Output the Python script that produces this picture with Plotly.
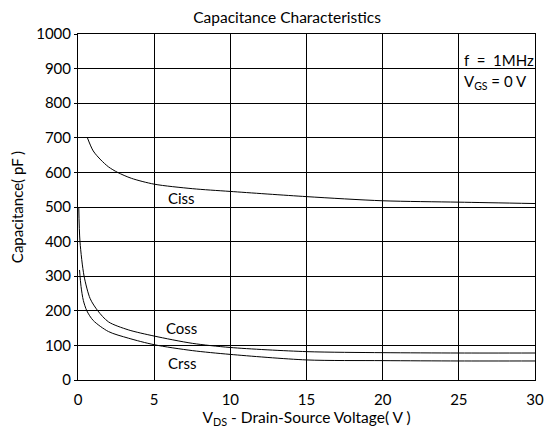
import plotly.graph_objects as go

# Data
ciss_x = [0.6, 1.0, 1.5, 2.0, 2.6, 3.5, 5, 7.5, 10, 15, 20, 25, 30]
ciss_y = [702, 662, 636, 616, 600, 583, 566, 553, 545, 530, 518, 514, 510]

coss_x = [0.05, 0.13, 0.4, 0.8, 1.3, 2.0, 3.3, 5, 7.5, 10, 15, 20, 25, 30]
coss_y = [500, 400, 300, 235, 200, 168, 145, 127, 106, 94, 82, 79, 78, 78]

crss_x = [0.1, 0.2, 0.35, 0.58, 1.0, 2.0, 3.3, 5, 7.5, 10, 15, 20, 25, 30]
crss_y = [318, 270, 230, 200, 172, 140, 121, 102, 85, 74, 58, 56, 55, 55]

x_ticks = [0, 5, 10, 15, 20, 25, 30]
y_ticks = [0, 100, 200, 300, 400, 500, 600, 700, 800, 900, 1000]

FONT = "Lato, Carlito, Calibri, sans-serif"

fig = go.Figure()
for xs, ys in [(ciss_x, ciss_y), (coss_x, coss_y), (crss_x, crss_y)]:
    fig.add_trace(go.Scatter(x=xs, y=ys, mode="lines",
                             line=dict(color="black", width=1, shape="spline", smoothing=0.8),
                             showlegend=False, hoverinfo="skip"))

labels = [("Ciss", 6.8, 526), ("Coss", 6.8, 150), ("Crss", 6.8, 49)]
for t, lx, ly in labels:
    fig.add_annotation(x=lx, y=ly, text=t, showarrow=False,
                       font=dict(size=15, color="black", family=FONT))

fig.add_annotation(x=25, y=924, text="f  =  1MHz", showarrow=False, xanchor="left", xshift=3,
                   font=dict(size=15, color="black", family=FONT))
fig.add_annotation(x=25, y=862, text="V<sub>GS</sub> = 0 V", showarrow=False, xanchor="left", xshift=3,
                   font=dict(size=15, color="black", family=FONT))

fig.update_layout(
    width=544, height=421,
    margin=dict(l=70, r=17, t=26, b=49, autoexpand=False),
    paper_bgcolor="white", plot_bgcolor="white",
    font=dict(family=FONT, size=14, color="black"),
    title=dict(text="Capacitance Characteristics", x=0.513, xanchor="center",
               y=0.978, yanchor="middle",
               font=dict(size=15.5, family=FONT, color="black")),
)
fig.update_xaxes(range=[0, 30], tickvals=x_ticks, ticktext=[str(v) for v in x_ticks],
                 showgrid=True, gridcolor="black", gridwidth=1,
                 showline=True, linecolor="black", linewidth=1, mirror=True,
                 zeroline=False, ticks="", ticklen=0, ticklabelstandoff=6,
                 tickfont=dict(size=15, family=FONT), automargin=False,
                 title=dict(text="V<sub>DS</sub> - Drain-Source Voltage( V )", standoff=0,
                            font=dict(size=15.5, family=FONT)))
fig.update_yaxes(range=[0, 1000], tickvals=y_ticks, ticktext=[str(v) for v in y_ticks],
                 showgrid=True, gridcolor="black", gridwidth=1,
                 showline=True, linecolor="black", linewidth=1, mirror=True,
                 zeroline=False, ticks="outside", ticklen=3, tickcolor="black",
                 tickfont=dict(size=15, family=FONT), automargin=False,
                 title=dict(text="Capacitance( pF )", standoff=10,
                            font=dict(size=15, family=FONT)))

fig.write_html("out.html")
